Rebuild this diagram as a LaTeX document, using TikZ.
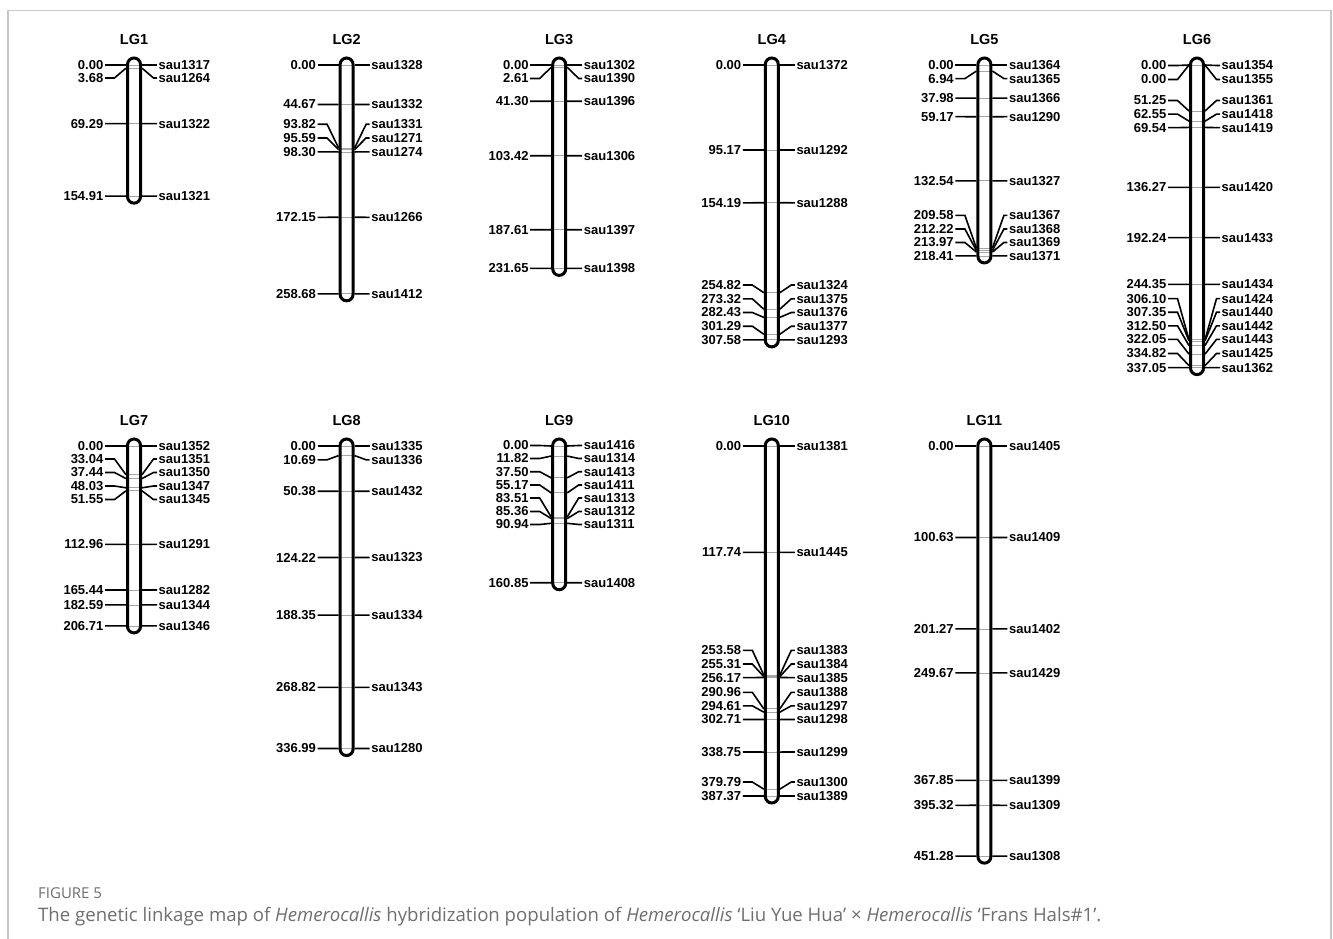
\documentclass[tikz,border=0pt]{standalone}
\usepackage{fontspec}
\setmainfont{Liberation Sans}
\newfontfamily\capfont{Open Sans}
\usetikzlibrary{calc}
\definecolor{capgray}{HTML}{6E6E6E}

% one linkage group: name, centre x, y of 0 cM, length (cM), markers pos/name/label y
\newcommand{\linkgroup}[5]{%
  \pgfmathsetmacro{\lgspan}{0.9414*#4-14.7}
  \node[lgtitle] (#1) at (#2,#3-25) {#1};
  \foreach \pos/\mrk/\ly in {#5} {
    \pgfmathsetmacro{\my}{#3+\pos/#4*\lgspan}
    \coordinate (#1-\mrk-l) at (#2-8,\my);
    \coordinate (#1-\mrk-r) at (#2+8,\my);
    \node[poslabel] (#1-\mrk-pos) at (#2-29,\ly) {\pos};
    \node[mrklabel] (#1-\mrk) at (#2+23,\ly) {\mrk};
    \draw[tick] (#1-\mrk-pos.east) -- ++(9.5,0) -- (#1-\mrk-l);
    \draw[tick] (#1-\mrk.west) -- ++(-3.5,0) -- (#1-\mrk-r);
    \draw[band] (#2-6.5,\my) -- (#2+6.5,\my);
  }
  \draw[chrom] (#2-6.5,#3-7) rectangle (#2+6.5,#3+\lgspan+7);
}

\begin{document}
\begin{tikzpicture}[x=1pt,y=-1pt,
    lgtitle/.style={font=\fontsize{14.5}{16}\selectfont\bfseries},
    poslabel/.style={anchor=east,inner sep=0pt,inner xsep=1.5pt,font=\fontsize{13}{14}\selectfont\bfseries},
    mrklabel/.style={anchor=west,inner sep=0pt,inner xsep=1.5pt,font=\fontsize{13}{14}\selectfont\bfseries},
    tick/.style={line width=1.6pt},
    band/.style={gray!70,line width=0.8pt},
    chrom/.style={line width=3pt,rounded corners=6.5pt},
    frame/.style={gray!45,line width=1.2pt},
    capline/.style={anchor=west,inner sep=0pt,text=capgray,font=\capfont}]
  \useasboundingbox (0,0) rectangle (1333,939);
  \draw[frame] (8,945) -- (8,10.5) -- (1331,10.5) -- (1331,945);

  % first row
  \linkgroup{LG1}{134}{65}{154.91}{0.00/sau1317/65, 3.68/sau1264/78, 69.29/sau1322/123.6, 154.91/sau1321/196.1}
  \linkgroup{LG2}{346.6}{65}{258.68}{0.00/sau1328/65, 44.67/sau1332/104.5, 93.82/sau1331/124.3, 95.59/sau1271/138, 98.30/sau1274/151.9, 172.15/sau1266/217.3, 258.68/sau1412/293.8}
  \linkgroup{LG3}{559.2}{65}{231.65}{0.00/sau1302/65, 2.61/sau1390/78.5, 41.30/sau1396/101.3, 103.42/sau1306/155.8, 187.61/sau1397/229.7, 231.65/sau1398/268.4}
  \linkgroup{LG4}{771.8}{65}{307.58}{0.00/sau1372/65, 95.17/sau1292/150, 154.19/sau1288/202.8, 254.82/sau1324/285, 273.32/sau1375/298.8, 282.43/sau1376/312.5, 301.29/sau1377/326.2, 307.58/sau1293/339.85}
  \linkgroup{LG5}{984.4}{65}{218.41}{0.00/sau1364/65, 6.94/sau1365/78.6, 37.98/sau1366/98.2, 59.17/sau1290/116.7, 132.54/sau1327/180.85, 209.58/sau1367/215.4, 212.22/sau1368/229, 213.97/sau1369/242.5, 218.41/sau1371/255.9}
  \linkgroup{LG6}{1197}{65}{337.05}{0.00/sau1354/65.5, 0.00/sau1355/79.5, 51.25/sau1361/100.5, 62.55/sau1418/114.1, 69.54/sau1419/127.6, 136.27/sau1420/187.3, 192.24/sau1433/237.6, 244.35/sau1434/284.4, 306.10/sau1424/298.6, 307.35/sau1440/312.2, 312.50/sau1442/325.8, 322.05/sau1443/339.4, 334.82/sau1425/353.5, 337.05/sau1362/367.6}

  % second row
  \linkgroup{LG7}{134}{446}{206.71}{0.00/sau1352/446, 33.04/sau1351/459, 37.44/sau1350/472.5, 48.03/sau1347/486, 51.55/sau1345/499.5, 112.96/sau1291/544.3, 165.44/sau1282/590, 182.59/sau1344/604.9, 206.71/sau1346/625.9}
  \linkgroup{LG8}{346.6}{446}{336.99}{0.00/sau1335/446, 10.69/sau1336/459.8, 50.38/sau1432/491.2, 124.22/sau1323/557.5, 188.35/sau1334/615.1, 268.82/sau1343/687.3, 336.99/sau1280/748.5}
  \linkgroup{LG9}{559.2}{446}{160.85}{0.00/sau1416/445.5, 11.82/sau1314/458.5, 37.50/sau1413/471.7, 55.17/sau1411/485, 83.51/sau1313/498, 85.36/sau1312/511.5, 90.94/sau1311/524.5, 160.85/sau1408/582.7}
  \linkgroup{LG10}{771.8}{446}{387.37}{0.00/sau1381/446, 117.74/sau1445/552.4, 253.58/sau1383/650.3, 255.31/sau1384/664, 256.17/sau1385/677.6, 290.96/sau1388/692.3, 294.61/sau1297/705.8, 302.71/sau1298/719.5, 338.75/sau1299/752, 379.79/sau1300/782, 387.37/sau1389/796}
  \linkgroup{LG11}{984.4}{446}{451.28}{0.00/sau1405/446, 100.63/sau1409/537.5, 201.27/sau1402/628.9, 249.67/sau1429/672.9, 367.85/sau1399/780.3, 395.32/sau1309/805.3, 451.28/sau1308/856.1}

  % caption
  \node[capline,font=\capfont\fontsize{15}{17}\selectfont] (figno) at (38,893) {FIGURE 5};
  \node[capline,font=\capfont\fontsize{18.6}{21}\selectfont] (caption) at (38,917)
    {The genetic linkage map of \textit{Hemerocallis} hybridization population of \textit{Hemerocallis} ‘Liu Yue Hua’ × \textit{Hemerocallis} ‘Frans Hals\#1’.};
\end{tikzpicture}
\end{document}
